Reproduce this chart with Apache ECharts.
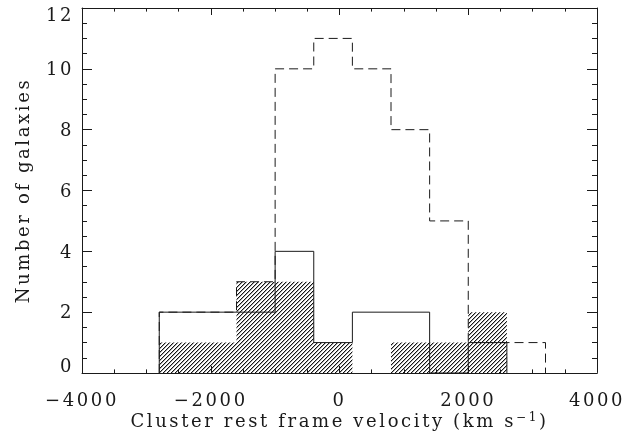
<!DOCTYPE html>
<html>
<head>
<meta charset="utf-8">
<script src="https://cdn.jsdelivr.net/npm/echarts@6/dist/echarts.min.js"></script>
<style>
  html, body { margin: 0; padding: 0; background: #fff; }
  #chart { width: 640px; height: 435px; }
</style>
</head>
<body>
<div id="chart"></div>
<script>
// Velocity bin edges (km/s), 600 km/s wide bins
const binEdges = [-2800, -2200, -1600, -1000, -400, 200, 800, 1400, 2000, 2600, 3200];

// Galaxy counts per bin
const allCounts    = [2, 2, 3, 10, 11, 10, 8, 5, 1, 1];   // dashed outline
const solidCounts  = [2, 2, 2, 4, 1, 2, 2, 0, 1];          // solid outline
const hatchCounts  = [1, 1, 3, 3, 1, 0, 1, 1, 2];          // hatched fill

// Zero-level run past the right edge of the frame
const tailVelocity = [4000, 4400];
const tailCounts   = [0, 0];

// Labelled ticks
const xTickValues = [-4000, -2000, 0, 2000, 4000];
const yTickValues = [0, 2, 4, 6, 8, 10, 12];

const FONT = 'DejaVu Serif';
const INK = '#1a1a1a';
const SPACING = '2.6px';   // wide, plotter-style lettering

// Text is measured with the same letter spacing it is drawn with
const measureCtx = document.createElement('canvas').getContext('2d');
measureCtx.letterSpacing = SPACING;
echarts.setPlatformAPI({
  measureText(text, font) {
    measureCtx.font = font;
    return measureCtx.measureText(text);
  }
});

// Step points for a histogram: rise from zero, one point per bin, drop back to zero
function histPoints(edges, counts) {
  const pts = [[edges[0], 0]];
  for (let i = 0; i < counts.length; i++) pts.push([edges[i], counts[i]]);
  pts.push([edges[counts.length], counts[counts.length - 1]]);
  pts.push([edges[counts.length], 0]);
  return pts;
}

// Diagonal "////" hatch tile
function hatchTile() {
  const n = 4;
  const c = document.createElement('canvas');
  c.width = n; c.height = n;
  const g = c.getContext('2d');
  const img = g.createImageData(n, n);
  for (let y = 0; y < n; y++) {
    for (let x = 0; x < n; x++) {
      const k = (y * n + x) * 4;
      const d = (x + y) % n;
      let a = 0;
      if (d === n - 1) a = 255;
      else if (d === 0) a = 90;
      img.data[k] = 20; img.data[k + 1] = 20; img.data[k + 2] = 20; img.data[k + 3] = a;
    }
  }
  g.putImageData(img, 0, 0);
  return c;
}

const minus = v => (v < 0 ? '\u2212' + Math.abs(v) : String(v));

function frameAxis(extra) {
  return Object.assign({
    type: 'value',
    axisLine: { show: true, onZero: false, lineStyle: { color: INK, width: 1 } },
    splitLine: { show: false },
    minorSplitLine: { show: false }
  }, extra);
}

const xTicks = {
  axisTick: { show: true, inside: true, length: 7, lineStyle: { color: INK } },
  minorTick: { show: true, splitNumber: 4, length: 3.6, lineStyle: { color: INK } }
};
const yTicks = {
  axisTick: { show: true, inside: true, length: 10, lineStyle: { color: INK } },
  minorTick: { show: true, splitNumber: 4, length: 5, lineStyle: { color: INK } }
};

const chart = echarts.init(document.getElementById('chart'), null, { renderer: 'canvas' });

chart.setOption({
  animation: false,
  backgroundColor: '#fff',
  grid: { left: 82, right: 43, top: 8, bottom: 62, outerBoundsMode: 'none' },
  xAxis: [
    frameAxis(Object.assign({
      min: -4000, max: 4000, interval: 2000, position: 'bottom',
      axisLabel: {
        customValues: xTickValues,
        formatter: minus, color: INK, fontFamily: FONT, fontSize: 18, margin: 18
      },
      name: 'Cluster rest frame velocity (km s{sup|\u22121})',
      nameLocation: 'middle', nameGap: 38, nameMoveOverlap: false,
      nameTextStyle: {
        color: INK, fontFamily: FONT, fontSize: 18,
        rich: { sup: { fontFamily: FONT, fontSize: 12, color: INK, padding: [0, 0, 9, 0] } }
      }
    }, xTicks)),
    frameAxis(Object.assign({
      min: -4000, max: 4000, interval: 2000, position: 'top',
      axisLabel: { show: false }
    }, xTicks))
  ],
  yAxis: [
    frameAxis(Object.assign({
      min: 0, max: 12, interval: 2, position: 'left',
      axisLabel: {
        customValues: yTickValues,
        margin: 8, color: INK, fontFamily: FONT, fontSize: 18,
        formatter: v => (v === 0 ? '{lo|0}' : v === 12 ? '{hi|12}' : '{n|' + v + '}'),
        rich: {
          lo: { fontFamily: FONT, fontSize: 18, color: INK, padding: [0, 0, 12, 0] },
          hi: { fontFamily: FONT, fontSize: 18, color: INK, padding: [16, 0, 0, 0] },
          n:  { fontFamily: FONT, fontSize: 18, color: INK, padding: [3, 0, 0, 0] }
        }
      },
      name: 'Number of galaxies',
      nameLocation: 'middle', nameGap: 47, nameRotate: 90, nameMoveOverlap: false,
      nameTextStyle: { color: INK, fontFamily: FONT, fontSize: 18 }
    }, yTicks)),
    frameAxis(Object.assign({
      min: 0, max: 12, interval: 2, position: 'right',
      axisLabel: { show: false }
    }, yTicks))
  ],
  series: [
    {
      name: 'hatched',
      type: 'line', step: 'end', symbol: 'none', z: 1,
      data: histPoints(binEdges, hatchCounts),
      lineStyle: { width: 0, opacity: 0 },
      areaStyle: { color: { image: hatchTile(), repeat: 'repeat' }, opacity: 1 }
    },
    {
      name: 'all',
      type: 'line', step: 'end', symbol: 'none', z: 3,
      data: histPoints(binEdges, allCounts),
      lineStyle: { color: INK, width: 1, type: [9, 5] }
    },
    {
      name: 'solid',
      type: 'line', step: 'end', symbol: 'none', z: 4,
      data: histPoints(binEdges, solidCounts),
      lineStyle: { color: INK, width: 1 }
    },
    {
      name: 'tail',
      type: 'line', symbol: 'none', z: 2, clip: false,
      data: tailVelocity.map((v, i) => [v, tailCounts[i]]),
      lineStyle: { color: '#555', width: 1, type: [1, 3] }
    }
  ]
});

// Draw the lettering with the same spacing used for measuring, then repaint
chart.getDom().querySelectorAll('canvas').forEach(cv => {
  cv.getContext('2d').letterSpacing = SPACING;
});
const zr = chart.getZr();
if (zr.painter && zr.painter.refresh) zr.painter.refresh(true);
</script>
</body>
</html>
